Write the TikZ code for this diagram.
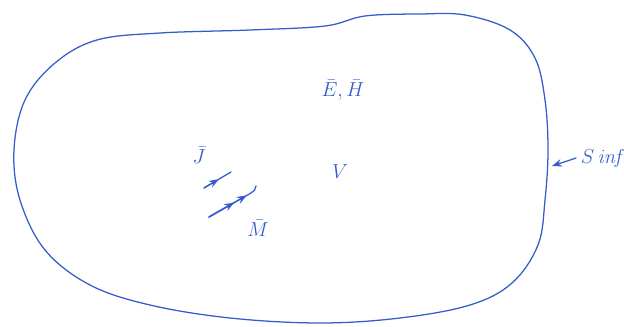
\documentclass[tikz,border=0pt]{standalone}
\usepackage{amsmath}
\usetikzlibrary{arrows.meta,calc}
\definecolor{pen}{RGB}{52,92,205}

\begin{document}
\begin{tikzpicture}[x=0.025cm,y=-0.025cm,>=Stealth,
    ink/.style={pen,line width=0.9pt,line cap=round,line join=round},
    lbl/.style={pen,font=\Large}]
    \useasboundingbox (0,0) rectangle (624,327);
    % outer surface
    \draw[ink] plot[smooth cycle,tension=0.6] coordinates {
      (97,40) (160,33) (250,30) (325,26) (365,16) (420,14) (465,15)
      (510,30) (535,58) (545,100) (548,150) (545,200) (538,245)
      (512,283) (470,305) (400,318) (320,323) (230,318) (150,305)
      (90,285) (45,250) (20,200) (14,150) (25,100) (55,63)};
    % fields and volume
    \node[lbl] (fields) at (343,90) {$\bar{E},\bar{H}$};
    \node[lbl] (vol) at (340,172) {$V$};
    % sources
    \node[lbl] (jlbl) at (199,155) {$\bar{J}$};
    \node[lbl] (mlbl) at (258,228) {$\bar{M}$};
    \coordinate (j0) at (204,188);
    \coordinate (j1) at (231,172);
    \draw[ink] (j0) -- (j1);
    \draw[ink,->] (j0) -- ($(j0)!0.55!(j1)$);
    \coordinate (m0) at (209,217);
    \coordinate (m1) at (251,193);
    \draw[ink] (m0) -- (m1) to[out=30,in=-90] (256,186);
    \draw[ink,->] (m0) -- ($(m0)!0.6!(m1)$);
    \draw[ink,->] (m0) -- ($(m0)!0.9!(m1)$);
    % surface at infinity
    \node[lbl,anchor=west] (sinf) at (576,158) {$S\,\mathit{inf}$};
    \coordinate (stip) at (552,166);
    \draw[ink,->] (sinf.west) -- (stip);
\end{tikzpicture}
\end{document}
